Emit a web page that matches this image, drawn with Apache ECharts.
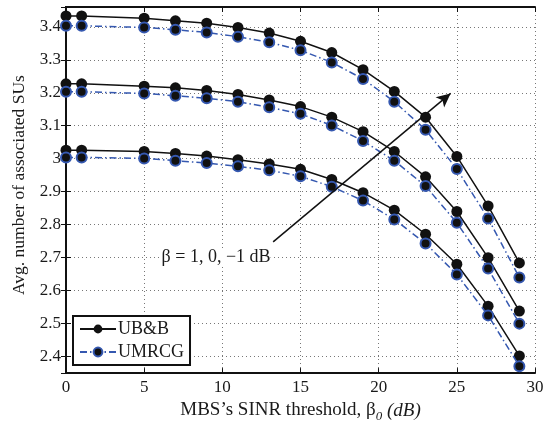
<!DOCTYPE html>
<html>
<head>
<meta charset="utf-8">
<script src="https://cdn.jsdelivr.net/npm/echarts@6/dist/echarts.min.js"></script>
<style>
  html, body { margin: 0; padding: 0; background: #fff; }
  #chart { width: 552px; height: 428px; }
</style>
</head>
<body>
<div id="chart"></div>
<script>
// SINR threshold values (dB)
const xs = [0, 1, 5, 7, 9, 11, 13, 15, 17, 19, 21, 23, 25, 27, 29];

// UB&B, beta = 1, 0, -1 dB
const ubbHigh = [3.433, 3.433, 3.426, 3.418, 3.411, 3.398, 3.381, 3.356, 3.322, 3.270, 3.204, 3.126, 3.007, 2.857, 2.684];
const ubbMid  = [3.227, 3.227, 3.220, 3.215, 3.207, 3.195, 3.178, 3.158, 3.126, 3.082, 3.022, 2.945, 2.840, 2.700, 2.538];
const ubbLow  = [3.026, 3.026, 3.022, 3.016, 3.008, 2.997, 2.984, 2.968, 2.937, 2.897, 2.844, 2.771, 2.680, 2.553, 2.402];

// UMRCG, beta = 1, 0, -1 dB
const umHigh = [3.403, 3.403, 3.398, 3.391, 3.383, 3.370, 3.353, 3.329, 3.292, 3.242, 3.173, 3.088, 2.969, 2.819, 2.640];
const umMid  = [3.203, 3.203, 3.198, 3.191, 3.183, 3.173, 3.156, 3.136, 3.101, 3.054, 2.994, 2.917, 2.806, 2.667, 2.500];
const umLow  = [3.004, 3.004, 3.001, 2.994, 2.987, 2.977, 2.965, 2.947, 2.915, 2.873, 2.816, 2.743, 2.649, 2.525, 2.371];

// annotation arrow (data coords) and label
const arrowFrom = [13.25, 2.748];
const arrowTo = [24.6, 3.198];
const noteText = 'β = 1, 0, −1 dB';
const notePos = [9.6, 2.70];

const FONT = '"Liberation Serif", "DejaVu Serif", serif';
const BLUE = '#3558b0';

const pairs = arr => arr.map((v, i) => [xs[i], v]);

function ubbSeries(data, extra) {
  return Object.assign({
    name: 'UB&B',
    type: 'line',
    data: pairs(data),
    symbol: 'circle',
    symbolSize: 11,
    itemStyle: { color: '#111' },
    lineStyle: { color: '#111', width: 1.5 },
    z: 3,
    animation: false,
  }, extra || {});
}

function umSeries(data) {
  return {
    name: 'UMRCG',
    type: 'line',
    data: pairs(data),
    symbol: 'circle',
    symbolSize: 10,
    itemStyle: { color: '#111', borderColor: BLUE, borderWidth: 2 },
    lineStyle: { color: BLUE, width: 1.5, type: [7, 3, 1.5, 3] },
    z: 4,
    animation: false,
  };
}

const chart = echarts.init(document.getElementById('chart'));

const axisLine = { show: true, lineStyle: { color: '#111', width: 2 } };
const tick = { show: true, inside: true, length: 5, lineStyle: { color: '#111', width: 1 } };
const split = { show: true, lineStyle: { color: '#777', width: 1, type: [1, 3] } };
const label = { color: '#1a1a1a', fontSize: 17, fontFamily: FONT };

chart.setOption({
  backgroundColor: '#fff',
  textStyle: { fontFamily: FONT },
  grid: { left: 66, right: 17, top: 7, bottom: 48, containLabel: false },
  legend: {
    left: 73,
    top: 316,
    orient: 'vertical',
    itemWidth: 36,
    itemHeight: 11,
    itemGap: 5,
    padding: [4, 6, 4, 6],
    borderColor: '#111',
    borderWidth: 2,
    backgroundColor: '#fff',
    textStyle: { fontSize: 18, fontFamily: FONT, color: '#1a1a1a', padding: [0, 0, 0, -3] },
    data: ['UB&B', 'UMRCG'],
  },
  xAxis: [{
    type: 'value',
    min: 0,
    max: 30,
    interval: 5,
    axisLine, axisTick: tick, splitLine: split,
    axisLabel: Object.assign({ margin: 6 }, label),
    name: '{n|MBS’s SINR threshold, β}{s|0}{i| (dB)}',
    nameLocation: 'middle',
    nameGap: 19,
    nameTextStyle: {
      rich: {
        n: { fontSize: 19, fontFamily: FONT, color: '#1a1a1a' },
        s: { fontSize: 13, fontFamily: FONT, fontStyle: 'italic', color: '#1a1a1a', padding: [12, 0, 0, 0] },
        i: { fontSize: 19, fontFamily: FONT, fontStyle: 'italic', color: '#1a1a1a' },
      },
    },
  }, {
    type: 'value',
    position: 'top',
    min: 0,
    max: 30,
    interval: 5,
    axisLine, axisTick: tick, splitLine: { show: false },
    axisLabel: { show: false },
  }],
  yAxis: [{
    type: 'value',
    min: 2.35,
    max: 3.46,
    splitNumber: 11,
    axisLine, axisTick: tick, splitLine: split,
    axisLabel: Object.assign({
      margin: 5,
      showMinLabel: false,
      showMaxLabel: false,
      formatter: v => (Math.abs(v * 10 - Math.round(v * 10)) < 1e-6 ? (Math.round(v * 10) % 10 === 0 ? String(Math.round(v)) : v.toFixed(1)) : ''),
    }, label),
    name: 'Avg. number of associated SUs',
    nameLocation: 'middle',
    nameGap: 29,
    nameTextStyle: { fontSize: 17.5, fontFamily: FONT, color: '#1a1a1a', padding: [0, 0, 0, 10] },
  }, {
    type: 'value',
    position: 'right',
    min: 2.35,
    max: 3.46,
    splitNumber: 11,
    axisLine, axisTick: tick, splitLine: { show: false },
    axisLabel: { show: false },
  }],
  series: [
    ubbSeries(ubbHigh, {
      markLine: {
        silent: true,
        symbol: ['none', 'arrow'],
        symbolSize: [10, 14],
        lineStyle: { color: '#111', width: 1.5, type: 'solid' },
        label: { show: false },
        data: [[{ coord: arrowFrom }, { coord: arrowTo }]],
      },
      markPoint: {
        silent: true,
        symbol: 'rect',
        symbolSize: 1,
        itemStyle: { color: 'rgba(0,0,0,0)' },
        label: { show: true, color: '#1a1a1a', fontSize: 18, fontFamily: FONT, formatter: noteText, backgroundColor: '#fff' },
        data: [{ coord: notePos }],
      },
    }),
    umSeries(umHigh),
    ubbSeries(ubbMid),
    umSeries(umMid),
    ubbSeries(ubbLow),
    umSeries(umLow),
  ],
});
</script>
</body>
</html>
